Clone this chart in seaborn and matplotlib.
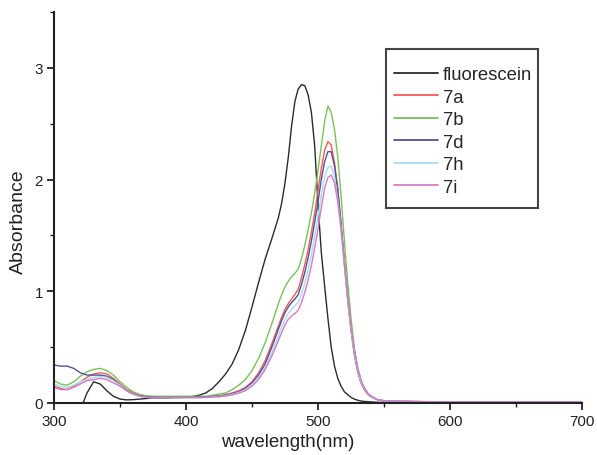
import numpy as np
import pandas as pd
import matplotlib
matplotlib.use("Agg")
import matplotlib.pyplot as plt
from matplotlib.patches import Rectangle
from matplotlib.ticker import MultipleLocator
import seaborn as sns

# Wavelength grid (nm): coarse in the flat UV part, finer around the visible band
wavelength = (
    list(range(300, 470, 5))
    + [470 + 2.5 * i for i in range(29)]
    + [545, 550, 560, 580, 600, 650, 700]
)

nan = np.nan

fluorescein = [
    nan, nan, nan, nan, -0.06, 0.09, 0.19, 0.17, 0.11, 0.06, 0.035, 0.028, 0.03,
    0.035, 0.04, 0.045, 0.045, 0.045, 0.048, 0.05, 0.052, 0.058, 0.07, 0.09, 0.13,
    0.19, 0.26, 0.35, 0.48, 0.65, 0.86, 1.08, 1.29, 1.47,
    1.66, 1.79, 1.97, 2.20, 2.48, 2.70, 2.81, 2.85, 2.84, 2.76, 2.60, 2.30, 1.78,
    1.35, 1.05, 0.76, 0.50, 0.33, 0.22, 0.15, 0.10, 0.075, 0.05, 0.035, 0.025,
    0.018, 0.014, 0.012, 0.010,
    0.006, 0.005, 0.005, 0.005, 0.005, 0.005, 0.005,
]

c7a = [
    0.15, 0.13, 0.12, 0.15, 0.19, 0.23, 0.26, 0.27, 0.26, 0.22, 0.17, 0.12, 0.09,
    0.07, 0.06, 0.055, 0.055, 0.055, 0.055, 0.055, 0.055, 0.055, 0.055, 0.055,
    0.06, 0.065, 0.075, 0.09, 0.11, 0.14, 0.19, 0.27, 0.38, 0.53,
    0.69, 0.77, 0.84, 0.89, 0.93, 0.97, 1.02, 1.12, 1.24, 1.37, 1.53, 1.70, 1.90,
    2.10, 2.26, 2.34, 2.31, 2.15, 1.92, 1.60, 1.25, 0.92, 0.65, 0.43, 0.28, 0.18,
    0.12, 0.08, 0.055,
    0.03, 0.02, 0.015, 0.012, 0.01, 0.01, 0.01,
]

c7b = [
    0.20, 0.17, 0.16, 0.19, 0.24, 0.28, 0.30, 0.31, 0.29, 0.25, 0.19, 0.14, 0.10,
    0.075, 0.065, 0.06, 0.06, 0.06, 0.06, 0.06, 0.06, 0.06, 0.06, 0.06,
    0.07, 0.08, 0.09, 0.12, 0.16, 0.21, 0.29, 0.40, 0.54, 0.71,
    0.89, 0.97, 1.04, 1.09, 1.13, 1.16, 1.20, 1.29, 1.41, 1.55, 1.70, 1.88, 2.08,
    2.30, 2.52, 2.66, 2.60, 2.45, 2.20, 1.85, 1.45, 1.08, 0.76, 0.50, 0.32, 0.20,
    0.14, 0.09, 0.06,
    0.03, 0.02, 0.015, 0.012, 0.01, 0.01, 0.01,
]

c7d = [
    0.34, 0.33, 0.33, 0.31, 0.27, 0.25, 0.25, 0.25, 0.24, 0.21, 0.16, 0.11, 0.08,
    0.065, 0.055, 0.052, 0.05, 0.05, 0.05, 0.05, 0.05, 0.05, 0.052, 0.055,
    0.058, 0.062, 0.07, 0.085, 0.10, 0.13, 0.18, 0.25, 0.35, 0.50,
    0.66, 0.74, 0.81, 0.86, 0.90, 0.93, 0.97, 1.06, 1.17, 1.30, 1.45, 1.62, 1.80,
    2.00, 2.16, 2.25, 2.25, 2.12, 1.90, 1.60, 1.26, 0.94, 0.67, 0.45, 0.30, 0.19,
    0.13, 0.085, 0.06,
    0.03, 0.02, 0.015, 0.012, 0.01, 0.01, 0.01,
]

c7h = [
    0.17, 0.15, 0.14, 0.16, 0.19, 0.21, 0.23, 0.235, 0.23, 0.20, 0.16, 0.11, 0.08,
    0.06, 0.05, 0.048, 0.048, 0.048, 0.048, 0.048, 0.048, 0.048, 0.048, 0.05,
    0.053, 0.058, 0.065, 0.078, 0.095, 0.12, 0.165, 0.23, 0.32, 0.45,
    0.60, 0.68, 0.75, 0.80, 0.84, 0.87, 0.90, 0.97, 1.07, 1.19, 1.33, 1.49, 1.67,
    1.86, 2.02, 2.11, 2.12, 2.02, 1.82, 1.55, 1.23, 0.92, 0.66, 0.45, 0.30, 0.19,
    0.13, 0.085, 0.06,
    0.03, 0.02, 0.015, 0.012, 0.01, 0.01, 0.01,
]

c7i = [
    0.14, 0.12, 0.12, 0.14, 0.17, 0.20, 0.21, 0.22, 0.21, 0.18, 0.15, 0.11, 0.08,
    0.06, 0.05, 0.048, 0.048, 0.048, 0.048, 0.048, 0.048, 0.048, 0.048, 0.05,
    0.052, 0.056, 0.062, 0.072, 0.088, 0.11, 0.15, 0.21, 0.30, 0.42,
    0.56, 0.63, 0.70, 0.75, 0.78, 0.80, 0.83, 0.90, 0.99, 1.10, 1.23, 1.39, 1.56,
    1.75, 1.92, 2.02, 2.04, 1.97, 1.80, 1.55, 1.24, 0.94, 0.68, 0.47, 0.32, 0.21,
    0.14, 0.09, 0.065,
    0.03, 0.02, 0.015, 0.012, 0.01, 0.01, 0.01,
]

names = ["fluorescein", "7a", "7b", "7d", "7h", "7i"]
series = [fluorescein, c7a, c7b, c7d, c7h, c7i]
colors = ["#2b2b2b", "#f25a5a", "#7cc05a", "#545096", "#a6dcec", "#d27cc8"]

frames = []
for name, values in zip(names, series):
    assert len(values) == len(wavelength), name
    frames.append(pd.DataFrame({"wavelength": wavelength, "absorbance": values, "compound": name}))
df = pd.concat(frames, ignore_index=True).dropna()

sns.set_style("ticks")
plt.rcParams["font.family"] = ["Liberation Sans", "DejaVu Sans"]

W, H = 597, 456
fig = plt.figure(figsize=(W / 100, H / 100), dpi=100)
ax = fig.add_axes([54 / W, 1 - 404 / H, 528 / W, 391 / H])

sns.lineplot(
    data=df, x="wavelength", y="absorbance", hue="compound",
    hue_order=names, palette=dict(zip(names, colors)),
    estimator=None, sort=True, linewidth=1.0, ax=ax,
)

ax.set_xlim(300, 700)
ax.set_ylim(0, 3.5)
ax.xaxis.set_major_locator(MultipleLocator(100))
ax.xaxis.set_minor_locator(MultipleLocator(50))
ax.yaxis.set_major_locator(MultipleLocator(1))
ax.yaxis.set_minor_locator(MultipleLocator(0.5))
ax.tick_params(which="major", direction="out", length=5, width=1.3, labelsize=11, colors="#222222", pad=3)
ax.tick_params(which="minor", direction="out", length=3, width=1.0, colors="#222222")
for side in ("top", "right"):
    ax.spines[side].set_visible(False)
for side in ("left", "bottom"):
    ax.spines[side].set_linewidth(1.5)
    ax.spines[side].set_color("#222222")

ax.set_xlabel("wavelength(nm)", fontsize=13.5, color="#222222")
ax.set_ylabel("Absorbance", fontsize=14, color="#222222")
ax.xaxis.set_label_coords((288 - 54) / 528, -0.078)
ax.yaxis.set_label_coords((27 - 54) / 528, (404 - 222) / 391)

# Legend entries without their own frame; a plain box is drawn around them
leg = ax.legend(
    loc="upper left", bbox_to_anchor=(394 / W, 1 - 67 / H),
    bbox_transform=fig.transFigure,
    borderaxespad=0, borderpad=0, frameon=False, fontsize=13.3,
    handlelength=2.38, handletextpad=0.28, labelspacing=0.3,
    title=None,
)
for line in leg.get_lines():
    line.set_linewidth(1.3)

fig.patches.append(Rectangle(
    (386 / W, 1 - 209 / H), (538 - 386) / W, (209 - 50) / H,
    transform=fig.transFigure, fill=False, edgecolor="#444444", linewidth=1.5,
))

fig.savefig("out.png", dpi=100)
